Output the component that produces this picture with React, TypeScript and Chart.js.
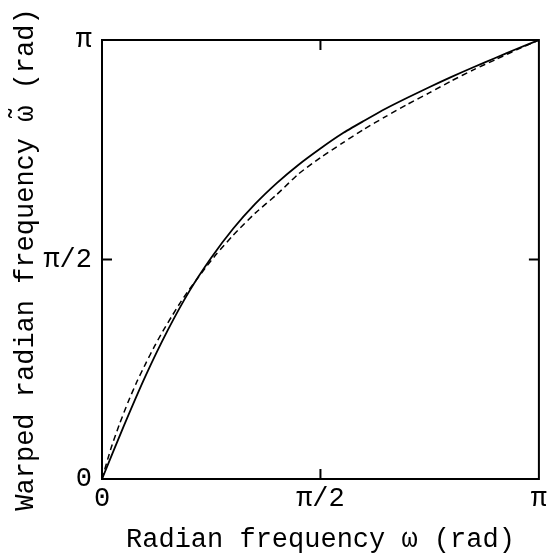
import { useEffect, useRef } from "react";
import { Chart, registerables } from "chart.js";

Chart.register(...registerables);

// All frequencies are expressed in units of π (0 … 1 ⇒ 0 … π rad)
const solidOmega = [0, 0.05, 0.1, 0.15, 0.2, 0.25, 0.3, 0.35, 0.4, 0.45, 0.5, 0.55, 0.6, 0.65, 0.7, 0.75, 0.8, 0.85, 0.9, 0.95, 1];
const solidWarped = [0, 0.121, 0.2355, 0.338, 0.428, 0.504, 0.57, 0.626, 0.674, 0.716, 0.753, 0.787, 0.816, 0.844, 0.869, 0.893, 0.916, 0.938, 0.959, 0.98, 1];

const dashedOmega = [0, 0.02, 0.04, 0.06, 0.08, 0.1, 0.12, 0.14, 0.16, 0.18, 0.2, 0.22, 0.24, 0.26, 0.3, 0.35, 0.4, 0.45, 0.5, 0.55, 0.6, 0.65, 0.7, 0.75, 0.8, 0.85, 0.9, 0.95, 1];
const dashedWarped = [0, 0.068, 0.125, 0.176, 0.222, 0.263, 0.302, 0.338, 0.371, 0.403, 0.432, 0.459, 0.485, 0.51, 0.555, 0.605, 0.648, 0.695, 0.732, 0.765, 0.797, 0.826, 0.854, 0.88, 0.907, 0.932, 0.955, 0.978, 1];

const tickValues = [0, 0.5, 1];
const tickLabels = ["0", "π/2", "π"];

const xTitle = "Radian frequency ω (rad)";
const yTitle = "Warped radian frequency ω\u0303 (rad)";

const FONT = "'Liberation Mono', 'DejaVu Sans Mono', monospace";

const framePlugin = {
  id: "frame",
  afterDatasetsDraw(chart: any) {
    const { ctx, chartArea, scales } = chart;
    const { left, right, top, bottom } = chartArea;
    const x = scales.x;
    const y = scales.y;
    ctx.save();
    ctx.strokeStyle = "#000";
    ctx.lineWidth = 2;
    ctx.strokeRect(left, top, right - left, bottom - top);
    const tl = 10;
    ctx.beginPath();
    tickValues.forEach((v) => {
      if (v <= 0 || v >= 1) return;
      const px = x.getPixelForValue(v);
      ctx.moveTo(px, bottom);
      ctx.lineTo(px, bottom - tl);
      ctx.moveTo(px, top);
      ctx.lineTo(px, top + tl);
      const py = y.getPixelForValue(v);
      ctx.moveTo(left, py);
      ctx.lineTo(left + tl, py);
      ctx.moveTo(right, py);
      ctx.lineTo(right - tl, py);
    });
    ctx.stroke();
    ctx.restore();
  },
};

export default function App() {
  const canvasRef = useRef<HTMLCanvasElement | null>(null);

  useEffect(() => {
    const canvas = canvasRef.current;
    if (!canvas) return;
    const tickFont = { family: FONT, size: 27 };
    const setTicks = (s: any) => {
      s.ticks = tickValues.map((v) => ({ value: v }));
    };
    const labelFor = (v: any) => {
      const i = tickValues.indexOf(Number(v));
      return i >= 0 ? tickLabels[i] : "";
    };
    const chart = new Chart(canvas, {
      type: "line",
      data: {
        datasets: [
          {
            label: "warped",
            data: solidOmega.map((v, i) => ({ x: v, y: solidWarped[i] })),
            borderColor: "#000",
            borderWidth: 1.8,
            pointRadius: 0,
            fill: false,
            tension: 0.2,
          },
          {
            label: "reference",
            data: dashedOmega.map((v, i) => ({ x: v, y: dashedWarped[i] })),
            borderColor: "#000",
            borderWidth: 1.5,
            borderDash: [6, 4],
            pointRadius: 0,
            fill: false,
            tension: 0.2,
          },
        ],
      },
      options: {
        animation: false,
        responsive: false,
        devicePixelRatio: 1,
        layout: { padding: { top: 40, right: 10, left: 0, bottom: 0 } },
        plugins: {
          legend: { display: false },
          tooltip: { enabled: false },
        },
        scales: {
          x: {
            type: "linear",
            min: 0,
            max: 1,
            afterBuildTicks: setTicks,
            afterFit: (s: any) => {
              s.height = 81;
            },
            grid: { display: false, drawTicks: false },
            border: { display: false },
            ticks: {
              callback: labelFor,
              font: tickFont,
              color: "#000",
              padding: 4,
              maxRotation: 0,
              autoSkip: false,
            },
            title: {
              display: true,
              text: xTitle,
              font: tickFont,
              color: "#000",
              padding: { top: 0, bottom: 4 },
            },
          },
          y: {
            type: "linear",
            min: 0,
            max: 1,
            afterBuildTicks: setTicks,
            afterFit: (s: any) => {
              s.width = 102;
            },
            grid: { display: false, drawTicks: false },
            border: { display: false },
            ticks: {
              callback: labelFor,
              font: tickFont,
              color: "#000",
              padding: 10,
              autoSkip: false,
            },
            title: {
              display: true,
              text: yTitle,
              font: tickFont,
              color: "#000",
              padding: { top: 10, bottom: 0 },
            },
          },
        },
      },
      plugins: [framePlugin],
    });
    return () => chart.destroy();
  }, []);

  return (
    <div style={{ position: "fixed", left: 0, top: 0, width: 551, height: 560, background: "#fff" }}>
      <canvas ref={canvasRef} width={551} height={560} style={{ display: "block" }} />
    </div>
  );
}
